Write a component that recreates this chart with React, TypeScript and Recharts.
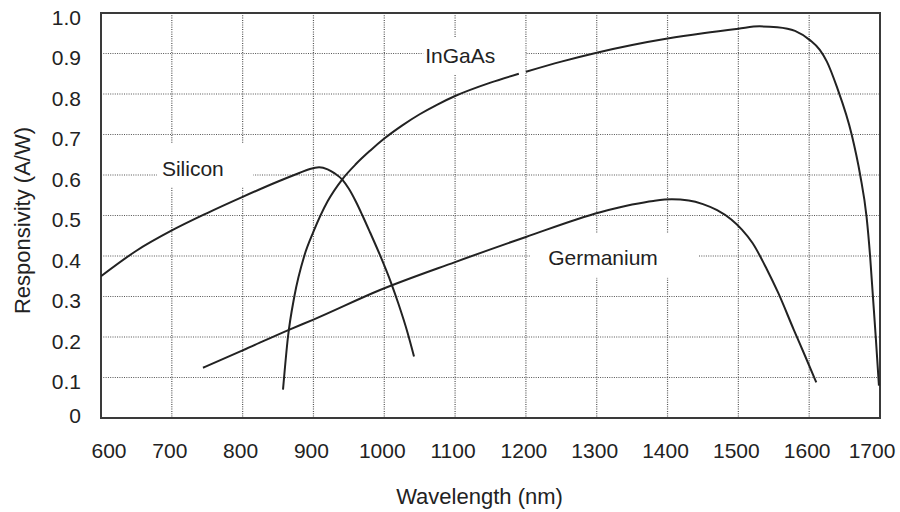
import React from 'react';
import { LineChart, Line, XAxis, YAxis, CartesianGrid, ReferenceArea, Label } from 'recharts';

const FONT = '"Liberation Sans", Arial, Helvetica, sans-serif';
const INK = '#222222';

const xTicks = [600, 700, 800, 900, 1000, 1100, 1200, 1300, 1400, 1500, 1600, 1700];
const yTicks = [0, 0.1, 0.2, 0.3, 0.4, 0.5, 0.6, 0.7, 0.8, 0.9, 1.0];

const siliconNm = [600, 650, 700, 750, 800, 850, 880, 895, 908, 920, 930, 941, 950, 960, 970, 980, 994, 1010, 1020, 1033, 1042];
const siliconResp = [0.35, 0.413, 0.463, 0.506, 0.546, 0.584, 0.605, 0.615, 0.619, 0.614, 0.604, 0.588, 0.566, 0.534, 0.497, 0.458, 0.402, 0.332, 0.282, 0.21, 0.152];

const ingaasNm = [857, 864, 873, 887, 900, 920, 941, 960, 980, 1000, 1025, 1050, 1075, 1100, 1150, 1190, 1195, 1200, 1250, 1300, 1350, 1400, 1450, 1500, 1530, 1555, 1580, 1601, 1615, 1625, 1639, 1660, 1672, 1681, 1686, 1690, 1694, 1698.5];
const ingaasResp: (number | null)[] = [0.07, 0.2, 0.3, 0.4, 0.46, 0.535, 0.59, 0.627, 0.66, 0.69, 0.722, 0.75, 0.774, 0.795, 0.828, 0.85, null, 0.855, 0.88, 0.902, 0.921, 0.937, 0.95, 0.961, 0.967, 0.965, 0.956, 0.933, 0.909, 0.88, 0.818, 0.7, 0.6, 0.497, 0.4, 0.3, 0.2, 0.08];

const germaniumNm = [744, 800, 867, 900, 994, 1100, 1200, 1305, 1350, 1380, 1406, 1430, 1450, 1470, 1490, 1505, 1520, 1540, 1556, 1578, 1595, 1610];
const germaniumResp = [0.124, 0.167, 0.219, 0.243, 0.316, 0.385, 0.447, 0.508, 0.527, 0.536, 0.54, 0.537, 0.528, 0.513, 0.49, 0.465, 0.432, 0.368, 0.31, 0.219, 0.15, 0.088];

const toRows = (nm: number[], r: (number | null)[]) => nm.map((w, i) => ({ w, v: r[i] }));
const silicon = toRows(siliconNm, siliconResp);
const ingaas = toRows(ingaasNm, ingaasResp);
const germanium = toRows(germaniumNm, germaniumResp);

const XTick = (props: any) => {
  const { x, y, payload } = props;
  const v = payload.value;
  const shift = v === 600 ? 8 : v === 1700 ? -8 : -2;
  return (
    <text x={x + shift} y={y + 32} textAnchor="middle" dominantBaseline="central" fontSize={21} fill={INK} fontFamily={FONT}>
      {v}
    </text>
  );
};

const YTick = (props: any) => {
  const { x, y, payload } = props;
  const v = payload.value;
  const label = v === 0 ? '0' : v.toFixed(1);
  return (
    <text x={x - 20} y={y + (v === 0 ? -3 : 4)} textAnchor="end" dominantBaseline="central" fontSize={21} fill={INK} fontFamily={FONT}>
      {label}
    </text>
  );
};

const XTitle = (props: any) => {
  const vb = props.viewBox || { x: 101, y: 418, width: 779, height: 94 };
  return (
    <text x={vb.x + vb.width / 2 - 11} y={vb.y + vb.height - 8} textAnchor="middle" fontSize={22} fill={INK} fontFamily={FONT}>
      Wavelength (nm)
    </text>
  );
};

const YTitle = (props: any) => {
  const vb = props.viewBox || { x: 0, y: 13, width: 101, height: 405 };
  const cx = vb.x + 22.5;
  const cy = vb.y + vb.height / 2 + 5;
  return (
    <text x={cx} y={cy} transform={`rotate(-90 ${cx} ${cy})`} textAnchor="middle" dominantBaseline="central" fontSize={22} fill={INK} fontFamily={FONT}>
      Responsivity (A/W)
    </text>
  );
};

const labelStyle = { fontSize: 21, fill: INK, fontFamily: FONT };

export default function App() {
  return (
    <div style={{ position: 'absolute', left: 0, top: 0, width: 900, height: 512, background: '#fff' }}>
      <LineChart width={900} height={512} margin={{ top: 13, right: 20, left: 0, bottom: 0 }}>
        <CartesianGrid
          stroke="#555"
          strokeDasharray="1 1.3"
          strokeWidth={1.2}
          verticalValues={[700, 800, 900, 1000, 1100, 1200, 1300, 1400, 1500, 1600]}
          horizontalValues={[0.1, 0.2, 0.3, 0.4, 0.5, 0.6, 0.7, 0.8, 0.9]}
        />
        <XAxis
          dataKey="w"
          type="number"
          domain={[600, 1700]}
          ticks={xTicks}
          interval={0}
          height={94}
          axisLine={false}
          tickLine={false}
          tickSize={0}
          tickMargin={0}
          tick={<XTick />}
          allowDataOverflow
        >
          <Label content={<XTitle />} />
        </XAxis>
        <YAxis
          type="number"
          domain={[0, 1]}
          ticks={yTicks}
          interval={0}
          width={101}
          axisLine={false}
          tickLine={false}
          tickSize={0}
          tickMargin={0}
          tick={<YTick />}
          allowDataOverflow
        >
          <Label content={<YTitle />} />
        </YAxis>
        <ReferenceArea x1={679} x2={815} y1={0.57} y2={0.679} fill="#fff" fillOpacity={1} stroke="none"
          label={{ value: 'Silicon', position: 'insideLeft', offset: 5, dy: 3, ...labelStyle }} />
        <ReferenceArea x1={1055} x2={1199} y1={0.847} y2={0.941} fill="#fff" fillOpacity={1} stroke="none"
          label={{ value: 'InGaAs', position: 'insideLeft', offset: 2, ...labelStyle }} />
        <ReferenceArea x1={1206} x2={1443} y1={0.346} y2={0.457} fill="#fff" fillOpacity={1} stroke="none"
          label={{ value: 'Germanium', position: 'insideLeft', offset: 18, dy: 2, ...labelStyle }} />
        <ReferenceArea x1={600} x2={1700} y1={0} y2={1} fill="none" fillOpacity={0} stroke="#3a3a3a" strokeWidth={2} />
        <Line data={silicon} dataKey="v" type="monotone" stroke={INK} strokeWidth={2} dot={false} activeDot={false} isAnimationActive={false} />
        <Line data={ingaas} dataKey="v" type="monotone" stroke={INK} strokeWidth={2} dot={false} activeDot={false} connectNulls={false} isAnimationActive={false} />
        <Line data={germanium} dataKey="v" type="monotone" stroke={INK} strokeWidth={2} dot={false} activeDot={false} isAnimationActive={false} />
      </LineChart>
    </div>
  );
}
